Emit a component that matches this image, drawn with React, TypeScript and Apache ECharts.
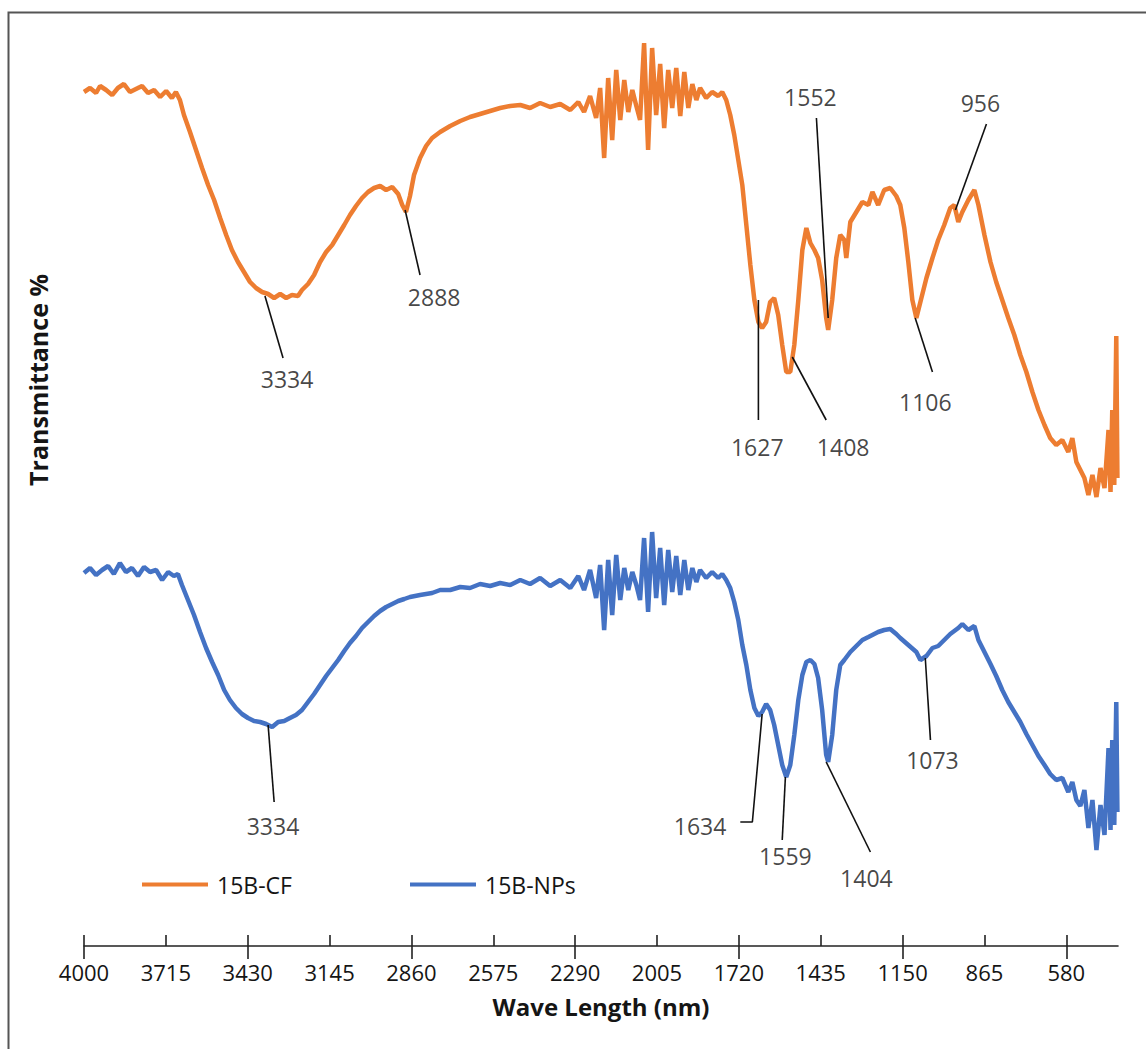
import React, { useEffect, useRef } from "react";
import * as echarts from "echarts";

// Wavenumber (cm-1) vs offset transmittance (%) readings
const CF_SPECTRUM: number[][] = [
  [4000,85.4],[3979,85.8],[3958,85.3],[3944,86.0],[3923,85.6],[3902,85.1],[3882,85.8],[3861,86.2],[3840,85.4],[3819,85.7],[3798,86.0],[3777,85.3],[3756,85.6],[3735,84.9],[3714,85.5],[3694,84.8],[3680,85.4],[3666,84.6],[3652,83.1],[3631,81.4],[3610,79.6],[3589,77.8],[3568,76.1],[3547,74.6],[3526,72.8],[3505,71.1],[3485,69.6],[3464,68.4],[3443,67.4],[3422,66.4],[3401,65.8],[3380,65.4],[3359,65.2],[3338,64.8],[3317,65.2],[3296,64.8],[3276,65.1],[3255,65.0],[3241,65.6],[3220,66.2],[3199,67.1],[3178,68.4],[3157,69.4],[3136,70.1],[3115,71.1],[3094,72.1],[3074,73.1],[3053,74.0],[3032,74.8],[3011,75.4],[2990,75.8],[2969,76.0],[2948,75.6],[2927,75.9],[2906,75.2],[2892,74.1],[2879,73.4],[2865,75.0],[2851,77.1],[2830,78.8],[2809,80.0],[2788,80.8],[2760,81.4],[2725,82.0],[2690,82.5],[2656,82.9],[2621,83.2],[2586,83.5],[2551,83.8],[2516,84.0],[2481,84.1],[2447,83.8],[2412,84.3],[2377,83.9],[2342,84.2],[2307,83.6],[2279,84.4],[2259,83.4],[2238,85.0],[2217,82.8],[2203,85.8],[2189,78.8],[2175,86.8],[2161,80.6],[2147,87.6],[2133,82.6],[2119,86.6],[2105,83.4],[2091,85.6],[2077,84.0],[2064,82.6],[2050,90.3],[2036,79.6],[2022,89.8],[2008,83.1],[1994,88.2],[1980,81.8],[1966,87.6],[1952,83.8],[1938,87.8],[1924,83.0],[1910,87.4],[1896,83.8],[1882,86.2],[1868,84.6],[1855,85.8],[1834,84.8],[1813,85.4],[1792,85.0],[1778,85.4],[1764,84.6],[1750,83.1],[1736,81.1],[1722,78.6],[1708,76.1],[1694,72.1],[1680,68.1],[1666,64.6],[1652,62.4],[1639,61.8],[1625,62.4],[1611,64.4],[1597,64.8],[1583,63.1],[1569,60.1],[1555,57.4],[1541,57.4],[1527,60.1],[1513,64.6],[1499,69.6],[1485,71.8],[1471,70.3],[1457,69.6],[1444,68.8],[1430,66.6],[1416,62.8],[1409,61.6],[1395,64.6],[1381,68.8],[1367,71.1],[1353,70.6],[1346,68.8],[1332,72.4],[1311,73.4],[1290,74.4],[1269,74.1],[1255,75.4],[1235,74.1],[1214,75.6],[1193,75.8],[1172,75.0],[1158,74.1],[1144,71.8],[1130,68.4],[1116,64.6],[1102,62.8],[1088,64.4],[1067,66.8],[1046,68.8],[1026,70.6],[1005,72.1],[984,73.8],[970,74.1],[956,72.4],[942,73.4],[921,74.6],[900,75.6],[886,74.1],[865,71.1],[844,68.4],[824,66.4],[803,64.6],[782,62.8],[761,61.1],[740,59.1],[719,57.4],[698,55.4],[677,53.6],[656,52.1],[636,50.8],[615,50.1],[594,50.6],[573,49.4],[559,50.8],[545,48.4],[531,47.6],[517,46.8],[503,45.1],[489,47.1],[475,44.9],[461,47.8],[447,45.8],[433,51.6],[426,45.4],[420,53.6],[413,46.1],[406,61.0],[402,46.8]
];

const NP_SPECTRUM: number[][] = [
  [4000,37.3],[3979,37.8],[3958,37.1],[3937,37.6],[3916,38.0],[3896,37.2],[3875,38.3],[3854,37.4],[3833,37.8],[3812,37.0],[3791,37.9],[3770,37.4],[3749,37.6],[3728,36.6],[3707,37.4],[3687,37.0],[3673,37.2],[3659,36.1],[3638,34.6],[3617,33.1],[3596,31.4],[3575,29.8],[3554,28.4],[3533,27.1],[3512,25.6],[3492,24.6],[3471,23.8],[3450,23.2],[3429,22.8],[3408,22.5],[3387,22.4],[3366,22.2],[3345,21.9],[3324,22.4],[3303,22.5],[3283,22.8],[3262,23.1],[3241,23.6],[3220,24.4],[3199,25.2],[3178,26.1],[3157,27.0],[3136,27.8],[3115,28.6],[3094,29.5],[3074,30.3],[3053,31.0],[3032,31.8],[3011,32.4],[2990,33.0],[2969,33.5],[2948,33.9],[2927,34.2],[2906,34.5],[2885,34.7],[2865,34.9],[2830,35.1],[2788,35.3],[2760,35.6],[2725,35.6],[2690,35.9],[2656,35.8],[2621,36.2],[2586,36.0],[2551,36.3],[2516,36.1],[2481,36.6],[2447,36.2],[2412,36.8],[2377,36.0],[2342,36.6],[2307,35.8],[2279,37.0],[2259,35.6],[2238,37.6],[2217,34.8],[2203,38.1],[2189,31.6],[2175,38.6],[2161,33.1],[2147,39.1],[2133,34.6],[2119,37.8],[2105,35.6],[2091,37.4],[2077,36.1],[2064,34.6],[2050,40.8],[2036,33.4],[2022,41.4],[2008,34.8],[1994,39.8],[1980,34.1],[1966,39.6],[1952,35.4],[1938,39.0],[1924,35.1],[1910,38.6],[1896,35.6],[1882,37.8],[1868,36.4],[1855,37.6],[1834,36.8],[1813,37.4],[1792,36.8],[1778,37.2],[1764,36.6],[1750,35.8],[1736,34.4],[1722,32.6],[1708,30.1],[1694,28.1],[1680,25.6],[1666,23.8],[1652,23.0],[1639,23.4],[1625,24.2],[1611,23.6],[1597,22.1],[1583,20.1],[1569,18.1],[1555,16.9],[1541,18.1],[1527,21.1],[1513,24.6],[1499,27.1],[1485,28.4],[1471,28.6],[1457,28.2],[1444,26.8],[1430,23.6],[1416,19.1],[1409,18.4],[1395,21.1],[1381,25.6],[1367,28.1],[1353,28.6],[1332,29.4],[1311,30.0],[1290,30.6],[1269,30.9],[1235,31.4],[1214,31.6],[1193,31.7],[1172,31.2],[1158,30.8],[1130,30.1],[1102,29.4],[1088,28.6],[1067,29.0],[1046,29.8],[1026,30.0],[1005,30.6],[984,31.2],[956,31.8],[942,32.2],[921,31.6],[900,32.0],[886,30.6],[865,29.4],[844,28.2],[824,27.0],[803,25.6],[782,24.4],[761,23.4],[740,22.4],[719,21.2],[698,20.1],[677,19.0],[656,18.1],[636,17.2],[615,16.6],[594,16.8],[573,15.4],[559,16.4],[545,14.6],[531,14.0],[517,15.6],[503,11.8],[489,14.6],[475,9.6],[461,14.1],[447,11.1],[433,19.8],[426,11.6],[420,20.6],[413,12.1],[406,24.4],[402,13.4]
];

const TICK_VALUES = [4000, 3715, 3430, 3145, 2860, 2575, 2290, 2005, 1720, 1435, 1150, 865, 580];
const MAJOR_TICKS = [4000, 3430, 2860, 2290, 1720, 1150, 580];

const SERIES_NAMES = ["15B-CF", "15B-NPs"];

// peak annotations: leader line points and label anchor (wavenumber, transmittance)
const CF_PEAKS = [
  { label: "3334", line: [[3370, 65.0], [3307, 58.8]], text: [3293, 56.7] },
  { label: "2888", line: [[2882, 73.6], [2830, 67.1]], text: [2781, 64.9] },
  { label: "1552", line: [[1450, 82.8], [1409, 62.8]], text: [1471, 84.9] },
  { label: "956", line: [[858, 82.2], [966, 73.6]], text: [879, 84.3] },
  { label: "1627", line: [[1652, 64.6], [1652, 52.6]], text: [1656, 49.9] },
  { label: "1408", line: [[1534, 58.9], [1416, 52.6]], text: [1357, 49.9] },
  { label: "1106", line: [[1106, 62.8], [1046, 57.4]], text: [1071, 54.4] },
];
const NP_PEAKS = [
  { label: "3334", line: [[3359, 22.1], [3338, 14.4]], text: [3342, 12.0] },
  { label: "1634", line: [[1715, 12.4], [1673, 12.4], [1639, 23.2]], text: [1855, 12.0] },
  { label: "1559", line: [[1558, 16.9], [1569, 10.6]], text: [1558, 9.0] },
  { label: "1404", line: [[1416, 18.4], [1262, 9.4]], text: [1276, 6.8] },
  { label: "1073", line: [[1071, 28.8], [1053, 20.6]], text: [1046, 18.6] },
];

const FONT = "'Open Sans', 'Noto Sans', sans-serif";
const ORANGE = "#ED7D31";
const BLUE = "#4472C4";
const INK = "#151515";

export default function App() {
  const ref = useRef<HTMLDivElement>(null);
  useEffect(() => {
    if (!ref.current) return;
    const chart = echarts.init(ref.current, null, { renderer: "svg" });
    const peaks = [...CF_PEAKS, ...NP_PEAKS];
    const leaderSeries = peaks.map((p, i) => ({
      type: "line",
      name: "leader" + i,
      data: p.line,
      symbol: "none",
      silent: true,
      z: 5,
      lineStyle: { color: "#111", width: 1.6 },
    }));
    const common = {
      type: "value",
      min: 400,
      max: 4000,
      inverse: true,
      gridIndex: 0,
      position: "bottom",
      splitLine: { show: false },
    };
    const legendBase = {
      top: 868,
      icon: "rect",
      itemWidth: 66,
      itemHeight: 4,
      textStyle: { fontSize: 23, fontFamily: FONT, color: INK, padding: [0, 0, 0, 4] },
    };
    const option: any = {
      animation: false,
      backgroundColor: "#fff",
      grid: { left: 84, right: 28, top: 36, bottom: 103 },
      legend: [
        { ...legendBase, data: [SERIES_NAMES[0]], left: 137 },
        { ...legendBase, data: [SERIES_NAMES[1]], left: 405 },
      ],
      xAxis: [
        {
          ...common,
          name: "Wave Length (nm)",
          nameLocation: "middle",
          nameGap: 48,
          nameTextStyle: { fontSize: 24, fontWeight: "bold", fontFamily: FONT, color: INK, lineHeight: 24 },
          axisLine: { show: true, lineStyle: { color: "#222", width: 1.6 } },
          axisTick: { show: true, inside: true, length: 11, customValues: TICK_VALUES, lineStyle: { color: "#222", width: 1.6 } },
          axisLabel: {
            show: true,
            customValues: TICK_VALUES,
            margin: 14,
            fontSize: 22,
            lineHeight: 24,
            fontFamily: FONT,
            color: INK,
            formatter: (v: number) => String(v),
          },
        },
        {
          ...common,
          axisLine: { show: false },
          axisTick: { show: true, inside: false, length: 13, customValues: MAJOR_TICKS, lineStyle: { color: "#222", width: 1.6 } },
          axisLabel: { show: false },
        },
      ],
      yAxis: {
        type: "value",
        min: 0,
        max: 91,
        show: false,
      },
      graphic: [
        {
          type: "rect",
          left: 6,
          top: 10,
          shape: { x: 0, y: 0, width: 1300, height: 1200 },
          style: { fill: "none", stroke: "#555", lineWidth: 2 },
          silent: true,
        },
        {
          type: "text",
          x: 38,
          y: 380,
          rotation: Math.PI / 2,
          style: {
            text: "Transmittance %",
            font: `bold 25px ${FONT}`,
            fill: INK,
            textAlign: "center",
            textVerticalAlign: "middle",
          },
        },
      ],
      series: [
        {
          type: "line",
          name: SERIES_NAMES[0],
          data: CF_SPECTRUM,
          symbol: "none",
          color: ORANGE,
          lineStyle: { color: ORANGE, width: 4.5 },
          z: 3,
        },
        {
          type: "line",
          name: SERIES_NAMES[1],
          data: NP_SPECTRUM,
          symbol: "none",
          color: BLUE,
          lineStyle: { color: BLUE, width: 4.5 },
          z: 3,
        },
        ...leaderSeries,
        {
          type: "scatter",
          name: "peakLabels",
          data: peaks.map((p) => [p.text[0], p.text[1], p.label]),
          symbolSize: 1,
          itemStyle: { color: "rgba(0,0,0,0)" },
          silent: true,
          z: 6,
          label: {
            show: true,
            position: "inside",
            formatter: (pr: any) => pr.value[2],
            fontSize: 23,
            fontFamily: FONT,
            color: INK,
          },
        },
      ],
    };
    chart.setOption(option);
    return () => chart.dispose();
  }, []);
  return (
    <div
      ref={ref}
      style={{ position: "absolute", left: 0, top: 0, width: 1146, height: 1049 }}
    />
  );
}
